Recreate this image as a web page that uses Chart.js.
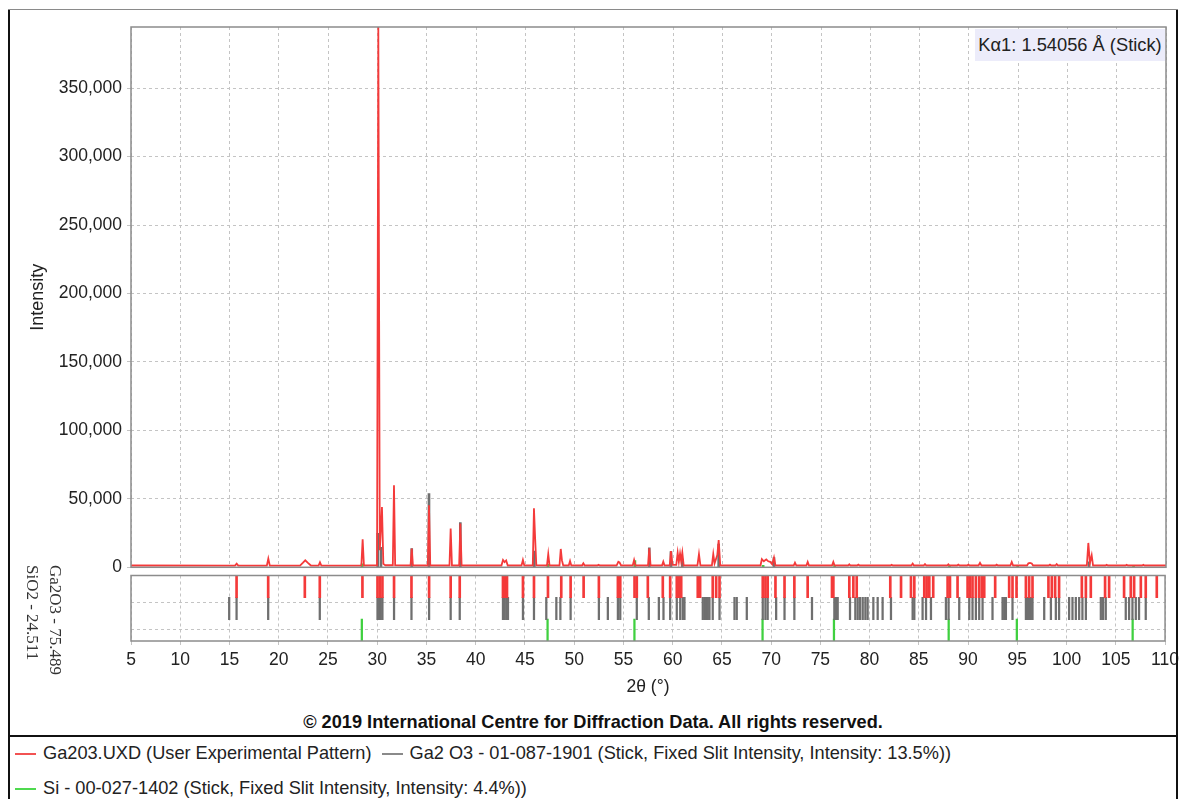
<!DOCTYPE html>
<html>
<head>
<meta charset="utf-8">
<title>Ga2O3 XRD pattern</title>
<script src="https://cdn.jsdelivr.net/npm/chart.js@4.4.1/dist/chart.umd.min.js"></script>
<style>
  html, body { margin: 0; padding: 0; background: #fff; }
  body { width: 1184px; height: 799px; position: relative; overflow: hidden;
         font-family: "Liberation Sans", Arial, sans-serif; color: #222; }
  canvas { position: absolute; left: 0; }
  #mainChart { top: 0; }
  #stickChart { top: 571px; }
  .vline { position: absolute; top: 9px; width: 2px; height: 790px; background: #111; z-index: 5; }
  .hline { position: absolute; left: 8px; width: 1170px; z-index: 5; }
  #kalpha { position: absolute; left: 975px; top: 29px; width: 190px; height: 32px; line-height: 32px;
            background: #ececfa; font-size: 18.3px; text-align: center; color: #222; z-index: 4; }
  #phases { position: absolute; left: 66px; top: 565px; transform-origin: 0 0; transform: rotate(90deg);
            font-family: "Liberation Serif", "Times New Roman", serif; font-size: 17px; line-height: 22.5px;
            white-space: nowrap; color: #333; }
  #copyright { position: absolute; left: 8px; width: 1170px; top: 710px; line-height: 24px;
               text-align: center; font-weight: bold; font-size: 18.2px; color: #111; }
  .legend-row { position: absolute; left: 15px; height: 24px; line-height: 24px; font-size: 18.2px;
                white-space: nowrap; color: #222; }
  .swatch { display: inline-block; width: 21px; height: 2px; vertical-align: middle; margin-right: 7px; }
</style>
</head>
<body>
<canvas id="mainChart" width="1184" height="590"></canvas>
<canvas id="stickChart" width="1184" height="130"></canvas>

<div id="kalpha">Kα1: 1.54056 Å (Stick)</div>
<div id="phases">Ga2O3 - 75.489<br>SiO2 - 24.511</div>
<div id="copyright">© 2019 International Centre for Diffraction Data. All rights reserved.</div>
<div class="legend-row" style="top:741px">
  <span class="swatch" style="background:#f25252"></span>Ga203.UXD (User Experimental Pattern)<span class="swatch" style="background:#8a8a8a;margin-left:10px"></span>Ga2 O3 - 01-087-1901 (Stick, Fixed Slit Intensity, Intensity: 13.5%))
</div>
<div class="legend-row" style="top:776px">
  <span class="swatch" style="background:#4fd94f"></span>Si - 00-027-1402 (Stick, Fixed Slit Intensity, Intensity: 4.4%))
</div>

<div class="vline" style="left:8px"></div>
<div class="vline" style="left:1176px"></div>
<div class="hline" style="top:9px;height:1px;background:#8a8a8a"></div>
<div class="hline" style="top:735px;height:2px;background:#111"></div>

<script>
// ---- Measured pattern: [2θ (°), intensity (counts)] ----
const EXP_POINTS = [
  [5.0,1300],[15.55,1250],[15.72,2700],[15.88,1250],
  [18.78,1250],[18.93,6300],[19.08,1250],
  [22.15,1300],[22.45,3400],[22.68,5100],[22.92,3400],[23.25,1300],
  [24.03,1250],[24.17,3600],[24.31,1250],
  [28.37,1300],[28.5,20400],[28.63,1300],
  [29.96,1500],[30.09,394700],[30.24,12500],[30.46,44000],[30.6,2500],[30.8,1500],
  [31.56,1500],[31.68,59900],[31.8,1500],
  [33.36,1300],[33.48,13600],[33.6,1300],
  [35.11,1300],[35.23,45300],[35.36,1300],
  [37.31,1300],[37.43,28300],[37.56,1300],
  [38.29,1300],[38.41,31900],[38.54,1300],
  [42.58,1300],[42.74,5300],[42.9,3800],[43.06,5000],[43.22,1300],
  [44.62,1300],[44.76,5300],[44.9,1300],
  [45.76,1300],[45.88,43100],[46.0,21000],[46.12,1400],
  [47.2,1300],[47.33,9700],[47.46,1300],
  [48.47,1300],[48.6,13400],[48.72,5000],[48.85,1300],
  [49.41,1300],[49.54,4600],[49.67,1300],
  [50.76,1300],[50.89,2900],[51.02,1300],
  [52.3,1300],[52.43,1800],[52.56,1300],
  [54.26,1300],[54.44,4100],[54.56,3600],[54.72,1300],
  [55.9,1300],[56.04,5300],[56.18,1300],
  [57.45,1300],[57.58,13900],[57.71,1300],
  [58.87,1300],[59.0,4100],[59.13,1300],
  [59.65,1300],[59.78,11900],[59.93,1800],
  [60.32,1800],[60.46,10700],[60.58,4000],[60.7,10000],[60.81,4500],[60.93,10700],[61.07,1300],
  [62.46,1300],[62.62,9700],[62.77,1300],
  [63.93,1300],[64.07,9700],[64.2,2800],[64.48,9000],[64.62,19900],[64.78,1300],
  [68.86,1300],[69.0,6000],[69.2,4400],[69.45,5800],[69.65,4400],[69.85,4000],[70.05,2200],[70.23,7100],[70.38,1300],
  [72.23,1300],[72.36,3400],[72.5,1300],
  [73.52,1300],[73.65,3900],[73.78,1300],
  [76.12,1300],[76.25,3900],[76.38,1300],
  [77.75,1300],[77.87,2200],[77.99,1300],
  [78.67,1300],[78.79,2000],[78.91,1300],
  [82.05,1300],[82.17,1800],[82.29,1300],
  [84.17,1300],[84.3,2700],[84.43,1300],
  [85.42,1300],[85.55,2400],[85.68,1300],
  [87.8,1300],[87.92,2200],[88.04,1300],
  [88.81,1300],[88.93,2000],[89.05,1300],
  [89.83,1300],[89.95,2000],[90.07,1300],
  [90.98,1300],[91.13,3200],[91.28,1300],
  [92.7,1300],[92.82,1900],[92.94,1300],
  [94.21,1300],[94.35,3900],[94.49,1300],
  [95.9,1300],[96.04,3000],[96.2,3200],[96.38,2800],[96.52,1300],
  [98.11,1300],[98.23,2000],[98.35,1300],
  [98.78,1300],[98.91,2400],[99.04,1300],
  [101.97,1300],[102.12,17800],[102.28,3200],[102.46,8800],[102.6,1300],
  [103.86,1300],[103.98,1800],[104.1,1300],
  [105.89,1300],[106.01,1800],[106.13,1300],
  [107.58,1300],[107.7,1800],[107.82,1300],
  [110.0,1300]
];

// ---- Ga2O3 01-087-1901 reference sticks shown in the pattern panel ----
const GA2O3_MAIN_POS = [30.03, 30.36, 33.48, 35.23, 38.41, 45.92, 57.58, 59.78, 60.93, 64.62, 70.23, 102.2];
const GA2O3_MAIN_INT = [24800, 14600, 13600, 53800, 32600, 11900, 14200, 11400, 6000, 17000, 7100, 4000];

// ---- Si 00-027-1402 reference sticks shown in the pattern panel ----
const SI_MAIN_POS = [28.44, 47.3, 56.12, 69.13, 76.38, 88.03, 94.95, 106.71];
const SI_MAIN_INT = [2500, 2200, 5000, 1500, 1500, 1000, 1000, 1000];

// ---- Stick panel: peak list of the measured pattern ----
const PEAK_LIST_POS = [
  15.72, 18.93, 22.65, 24.17, 28.5, 30.03, 30.26, 30.53, 31.71, 33.48, 35.27, 37.46, 38.38,
  42.77, 42.97, 43.18, 44.8, 45.92, 47.34, 48.69, 49.64, 50.96, 52.51, 54.44, 54.68, 56.13, 56.36,
  57.48, 59.0, 59.75, 60.42, 60.63, 60.87, 62.55, 62.79, 64.07, 64.42, 64.76, 69.15, 69.42, 69.65,
  70.44, 71.36, 72.36, 73.71, 76.18, 76.32, 77.94, 78.35, 78.69, 82.1, 83.19, 84.2, 84.54, 85.55,
  85.79, 86.06, 86.46, 87.92, 88.16, 88.93, 89.95, 90.19, 90.45, 90.79, 91.13, 91.4, 91.64, 92.75,
  94.17, 94.51, 94.92, 95.87, 96.2, 96.54, 98.16, 98.5, 98.84, 99.24, 101.55, 101.96, 102.46,
  103.91, 104.32, 105.84, 106.52, 106.86, 107.54, 108.04, 109.16
];

// ---- Stick panel: Ga2O3 reference lines ----
const GA2O3_STICK_POS = [
  14.97, 15.72, 18.93, 24.17, 30.03, 30.2, 30.36, 30.53, 31.71, 33.48, 35.27, 37.46, 38.38,
  42.77, 42.94, 43.11, 43.28, 44.8, 45.92, 47.17, 48.19, 48.6, 49.64, 52.51, 53.42, 54.44, 54.68,
  56.36, 57.58, 58.6, 59.07, 59.75, 60.42, 60.77, 61.03, 61.2, 63.06, 63.23, 63.4, 63.57, 63.74,
  64.07, 64.76, 66.28, 66.51, 67.53, 69.15, 69.42, 69.65, 70.51, 71.36, 72.36, 74.15, 76.42,
  76.59, 76.76, 78.01, 78.55, 78.79, 79.03, 79.3, 79.57, 79.8, 80.38, 80.82, 81.32, 82.17, 84.37,
  84.54, 85.38, 85.73, 86.23, 87.75, 88.02, 89.1, 90.12, 90.45, 90.79, 91.13, 91.47, 92.48, 93.5,
  93.67, 93.84, 94.51, 95.87, 96.04, 96.2, 96.37, 96.54, 97.73, 98.41, 98.91, 99.24, 100.26,
  100.6, 100.94, 101.28, 101.61, 101.96, 103.48, 103.71, 103.98, 106.01, 106.35, 106.69, 107.03,
  107.36, 108.04
];

// ---- Stick panel: Si reference lines ----
const SI_STICK_POS = [28.44, 47.3, 56.12, 69.13, 76.38, 88.03, 94.95, 106.71];

// ---- Axis ticks ----
const X_TICKS = [5,10,15,20,25,30,35,40,45,50,55,60,65,70,75,80,85,90,95,100,105,110];
const Y_TICKS = [0, 50000, 100000, 150000, 200000, 250000, 300000, 350000];
const Y_MAX = 394700;

// ---- Styling ----
const RED = '#f43a3a';
const GREY_STICK = '#6f6f6f';
const GREEN = '#3fd03f';
const GRID = '#c4c4c4';
const PLOT_LEFT = 131;

Chart.defaults.font.family = "'Liberation Sans', Arial, sans-serif";
Chart.defaults.color = '#222';

// stroke a plain frame round each plot area
const plotFrame = {
  id: 'plotFrame',
  afterDatasetsDraw(chart) {
    const { ctx, chartArea: a } = chart;
    ctx.save();
    ctx.strokeStyle = '#8c8c8c';
    ctx.lineWidth = 1.5;
    ctx.strokeRect(a.left, a.top, a.right - a.left, a.bottom - a.top);
    ctx.restore();
  }
};

const fixedTicks = values => scale => { scale.ticks = values.map(v => ({ value: v })); };

// ---- Pattern panel ----
new Chart(document.getElementById('mainChart'), {
  type: 'line',
  data: {
    datasets: [
      {
        label: 'Ga203.UXD (User Experimental Pattern)',
        data: EXP_POINTS.map(([x, y]) => ({ x, y })),
        borderColor: RED, borderWidth: 1.8, pointRadius: 0, tension: 0, fill: false, order: 0
      },
      {
        type: 'bar', label: 'Ga2 O3 - 01-087-1901',
        data: GA2O3_MAIN_POS.map((x, i) => ({ x, y: [0, GA2O3_MAIN_INT[i]] })),
        backgroundColor: GREY_STICK, barThickness: 2, grouped: false, order: 1
      },
      {
        type: 'bar', label: 'Si - 00-027-1402',
        data: SI_MAIN_POS.map((x, i) => ({ x, y: [0, SI_MAIN_INT[i]] })),
        backgroundColor: GREEN, barThickness: 2, grouped: false, order: 2
      }
    ]
  },
  options: {
    responsive: false, animation: false,
    layout: { padding: { left: 0, top: 27, right: 18, bottom: 22.7 } },
    plugins: { legend: { display: false }, tooltip: { enabled: false } },
    scales: {
      x: {
        type: 'linear', min: 5, max: 110, offset: false,
        afterBuildTicks: fixedTicks(X_TICKS),
        ticks: { display: false },
        grid: { color: GRID, lineWidth: 1, drawTicks: false, offset: false },
        border: { display: false, dash: [3, 3] },
        afterFit: s => { s.height = 0; }
      },
      y: {
        min: 0, max: Y_MAX,
        afterBuildTicks: fixedTicks(Y_TICKS),
        ticks: { font: { size: 17.5 }, padding: 5, color: '#222',
                 callback: v => Number(v).toLocaleString('en-US') },
        grid: { color: GRID, lineWidth: 1, drawTicks: true, tickLength: 4, tickColor: GRID },
        border: { display: false, dash: [3, 3] },
        title: { display: true, text: 'Intensity', font: { size: 18 }, color: '#222',
                 padding: { top: 27, bottom: 0 } },
        afterFit: s => { s.width = PLOT_LEFT; }
      }
    }
  },
  plugins: [plotFrame]
});

// ---- Stick panel: three bands (peak list, Ga2O3, Si) ----
const BAND = { peaks: [1.98, 3], ga2o3: [0.98, 2], si: [0, 1] };
new Chart(document.getElementById('stickChart'), {
  type: 'bar',
  data: {
    datasets: [
      { label: 'Peak list', data: PEAK_LIST_POS.map(x => ({ x, y: BAND.peaks })),
        backgroundColor: RED, barThickness: 2, grouped: false },
      { label: 'Ga2 O3 - 01-087-1901', data: GA2O3_STICK_POS.map(x => ({ x, y: BAND.ga2o3 })),
        backgroundColor: GREY_STICK, barThickness: 1.6, grouped: false },
      { label: 'Si - 00-027-1402', data: SI_STICK_POS.map(x => ({ x, y: BAND.si })),
        backgroundColor: GREEN, barThickness: 1.6, grouped: false }
    ]
  },
  options: {
    responsive: false, animation: false,
    layout: { padding: { left: 0, top: 4.5, right: 18, bottom: 0 } },
    plugins: { legend: { display: false }, tooltip: { enabled: false } },
    scales: {
      x: {
        type: 'linear', min: 5, max: 110, offset: false,
        afterBuildTicks: fixedTicks(X_TICKS),
        ticks: { font: { size: 17.5 }, padding: 5, color: '#222', maxRotation: 0, autoSkip: false },
        grid: { color: GRID, lineWidth: 1, drawTicks: true, tickLength: 4, tickColor: GRID, offset: false },
        border: { display: false, dash: [3, 3] },
        title: { display: true, text: '2θ (°)', font: { size: 17.5 }, color: '#222',
                 padding: { top: 0, bottom: 3.5 } },
        afterFit: s => { s.height = 60; }
      },
      y: {
        min: 0, max: 3,
        afterBuildTicks: fixedTicks([0.536, 1.754]),
        ticks: { display: false },
        grid: { color: GRID, lineWidth: 1, drawTicks: false },
        border: { display: false, dash: [3, 3] },
        afterFit: s => { s.width = PLOT_LEFT; }
      }
    }
  },
  plugins: [plotFrame]
});
</script>
</body>
</html>
